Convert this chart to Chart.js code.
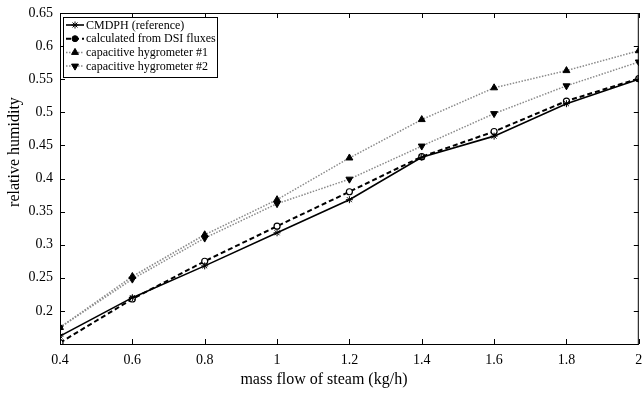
<!DOCTYPE html>
<html>
<head>
<meta charset="utf-8">
<script src="https://cdn.jsdelivr.net/npm/chart.js@4/dist/chart.umd.min.js"></script>
<style>
  html, body { margin: 0; padding: 0; background: #fff; }
  #wrap { width: 644px; height: 397px; }
</style>
</head>
<body>
<div id="wrap"><canvas id="chart" width="644" height="397"></canvas></div>
<script>
const steamFlow = [0.4, 0.6, 0.8, 1.0, 1.2, 1.4, 1.6, 1.8, 2.0];
const cmdph = [0.162, 0.220, 0.268, 0.318, 0.368, 0.432, 0.464, 0.513, 0.550];
const dsiFluxes = [0.152, 0.218, 0.275, 0.328, 0.380, 0.433, 0.471, 0.517, 0.551];
const hygrometer1 = [0.175, 0.252, 0.315, 0.368, 0.431, 0.489, 0.537, 0.563, 0.593];
const hygrometer2 = [0.175, 0.248, 0.310, 0.362, 0.399, 0.449, 0.498, 0.540, 0.576];
const seriesNames = ['CMDPH (reference)', 'calculated from DSI fluxes', 'capacitive hygrometer #1', 'capacitive hygrometer #2'];
const xTitle = 'mass flow of steam (kg/h)';
const yTitle = 'relative humidity';

const serif = '"Liberation Serif", "DejaVu Serif", serif';

function pts(ys) {
  return steamFlow.map((x, i) => ({ x, y: ys[i] }));
}

const fmt = v => String(Number(v.toFixed(2)));

// box round the axes, inward ticks on all sides, titles, legend drawn matlab-style
const axesBox = {
  id: 'axesBox',
  afterDraw(chart) {
    const { ctx, chartArea: a, scales } = chart;
    ctx.save();
    ctx.strokeStyle = '#000';
    ctx.lineWidth = 1;
    ctx.strokeRect(a.left + 0.5, a.top + 0.5, a.right - a.left - 1, a.bottom - a.top);
    ctx.beginPath();
    const tl = 5;
    scales.x.ticks.forEach(t => {
      const px = Math.round(scales.x.getPixelForValue(t.value)) + 0.5;
      ctx.moveTo(px, a.bottom); ctx.lineTo(px, a.bottom - tl);
      ctx.moveTo(px, a.top); ctx.lineTo(px, a.top + tl);
    });
    scales.y.ticks.forEach(t => {
      const py = Math.round(scales.y.getPixelForValue(t.value)) + 0.5;
      ctx.moveTo(a.left, py); ctx.lineTo(a.left + tl, py);
      ctx.moveTo(a.right, py); ctx.lineTo(a.right - tl, py);
    });
    ctx.stroke();

    // axis titles (sit a little off-centre in the original)
    ctx.fillStyle = '#000';
    ctx.font = '16px ' + serif;
    ctx.textAlign = 'center';
    ctx.textBaseline = 'middle';
    ctx.fillText(xTitle, a.left + (a.right - a.left) * 0.456, a.bottom + 36);
    ctx.save();
    ctx.translate(15, a.top + (a.bottom - a.top) * 0.42);
    ctx.rotate(-Math.PI / 2);
    ctx.fillText(yTitle, 0, 0);
    ctx.restore();

    // legend
    const lx = a.left + 3, ly = a.top + 4, lw = 154, lh = 60;
    ctx.fillStyle = '#fff';
    ctx.fillRect(lx, ly, lw, lh);
    ctx.strokeRect(lx + 0.5, ly + 0.5, lw, lh);
    ctx.font = '12px ' + serif;
    ctx.textAlign = 'left';
    chart.data.datasets.forEach((ds, i) => {
      const y = ly + 8 + i * 13.7;
      ctx.beginPath();
      ctx.strokeStyle = ds.borderColor;
      ctx.lineWidth = ds.borderWidth;
      ctx.setLineDash(ds.borderDash || []);
      ctx.moveTo(lx + 3, y);
      ctx.lineTo(lx + 21, y);
      ctx.stroke();
      ctx.setLineDash([]);
      ctx.fillStyle = '#000';
      ctx.strokeStyle = '#000';
      ctx.lineWidth = 1;
      Chart.helpers.drawPoint(ctx, {
        pointStyle: ds.pointStyle,
        rotation: ds.pointRotation || 0,
        radius: ds.pointRadius,
        borderWidth: 1
      }, lx + 12, y);
      ctx.fillStyle = '#000';
      ctx.fillText(ds.label, lx + 23, y + 0.5);
    });
    ctx.restore();
  }
};

new Chart(document.getElementById('chart'), {
  type: 'line',
  data: {
    datasets: [
      {
        label: seriesNames[0],
        data: pts(cmdph),
        borderColor: '#000',
        borderWidth: 1.6,
        pointStyle: 'star',
        pointRadius: 3.5,
        pointBackgroundColor: '#000',
        pointBorderColor: '#000',
        pointBorderWidth: 1
      },
      {
        label: seriesNames[1],
        data: pts(dsiFluxes),
        borderColor: '#000',
        borderWidth: 2,
        borderDash: [5, 3],
        pointStyle: 'circle',
        pointRadius: 3,
        pointBackgroundColor: '#fff',
        pointBorderColor: '#000',
        pointBorderWidth: 1.2
      },
      {
        label: seriesNames[2],
        data: pts(hygrometer1),
        borderColor: '#8a8a8a',
        borderWidth: 1.5,
        borderDash: [1.5, 1.5],
        pointStyle: 'triangle',
        pointRadius: 4,
        pointBackgroundColor: '#000',
        pointBorderColor: '#000',
        pointBorderWidth: 1
      },
      {
        label: seriesNames[3],
        data: pts(hygrometer2),
        borderColor: '#8a8a8a',
        borderWidth: 1.5,
        borderDash: [1.5, 1.5],
        pointStyle: 'triangle',
        pointRotation: 180,
        pointRadius: 4,
        pointBackgroundColor: '#000',
        pointBorderColor: '#000',
        pointBorderWidth: 1
      }
    ]
  },
  options: {
    responsive: false,
    animation: false,
    layout: { padding: { top: 13, right: 3, left: 0, bottom: 0 } },
    plugins: {
      legend: { display: false },
      tooltip: { enabled: false }
    },
    elements: { line: { tension: 0 } },
    scales: {
      x: {
        type: 'linear',
        min: 0.4,
        max: 2,
        grid: { display: false, drawTicks: false },
        border: { display: false },
        ticks: {
          stepSize: 0.2,
          padding: 8,
          color: '#000',
          font: { family: serif, size: 14 },
          callback: v => fmt(v)
        },
        afterFit: s => { s.height = 53; s.paddingLeft = 0; s.paddingRight = 0; }
      },
      y: {
        min: 0.15,
        max: 0.65,
        grid: { display: false, drawTicks: false },
        border: { display: false },
        ticks: {
          stepSize: 0.05,
          padding: 7,
          color: '#000',
          font: { family: serif, size: 14 },
          callback: v => (Math.abs(v - 0.15) < 1e-6 ? '' : fmt(v))
        },
        afterFit: s => { s.width = 60; s.paddingTop = 0; s.paddingBottom = 0; }
      }
    }
  },
  plugins: [axesBox]
});
</script>
</body>
</html>
